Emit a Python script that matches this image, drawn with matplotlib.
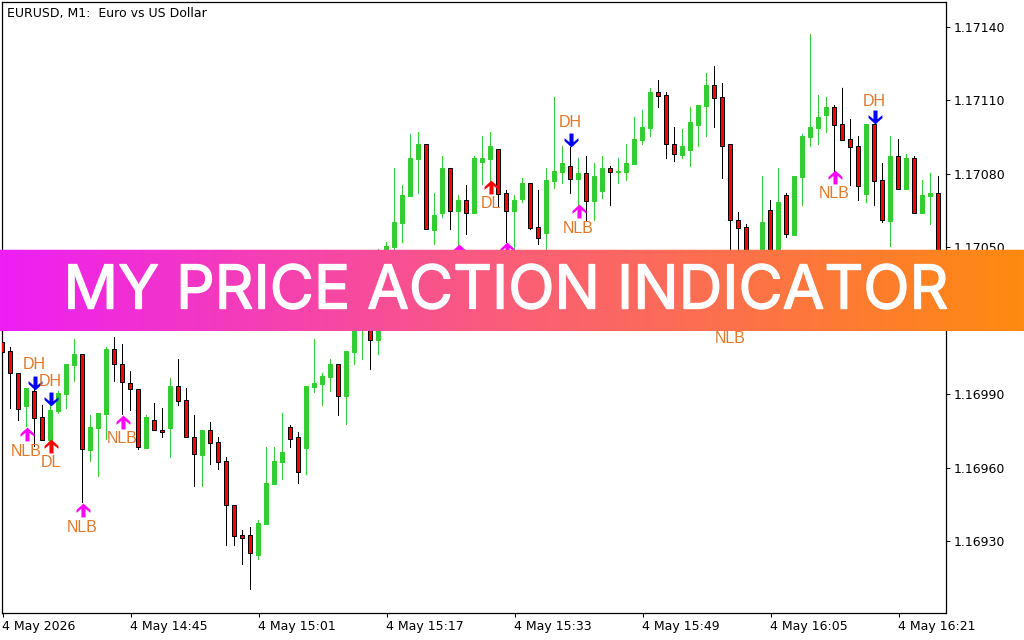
import numpy as np
import matplotlib
matplotlib.use("Agg")
import matplotlib.pyplot as plt
import matplotlib.patheffects as pe
from matplotlib.path import Path
from matplotlib.colors import LinearSegmentedColormap

# 1. candle data, one minute bars
highs = [1.170182, 1.170093, 1.169986, 1.169925, 1.169937, 1.169856, 1.169856, 1.169913, 1.170023, 1.170125,
         1.170064, 1.169815, 1.169823, 1.170093, 1.170133, 1.170105, 1.169994, 1.169921, 1.169815, 1.169864,
         1.169843, 1.169966, 1.170043, 1.169925, 1.169815, 1.169753, 1.169786, 1.169725, 1.169643, 1.169447,
         1.169345, 1.169357, 1.169386, 1.169684, 1.169684, 1.169823, 1.169774, 1.169745, 1.169933, 1.170125,
         1.169986, 1.170043, 1.170023, 1.170076, 1.170284, 1.170346, 1.170244, 1.170493, 1.170521, 1.170824,
         1.170754, 1.170963, 1.170971, 1.170922, 1.170722, 1.170873, 1.170824, 1.170713, 1.170754, 1.170873,
         1.170954, 1.170971, 1.170901, 1.170734, 1.170713, 1.170783, 1.170762, 1.170734, 1.170824, 1.171114,
         1.170914, 1.170910, 1.170865, 1.170873, 1.170844, 1.170873, 1.170832, 1.170865, 1.170922, 1.171032,
         1.171061, 1.171151, 1.171183, 1.171134, 1.170991, 1.170983, 1.171073, 1.171081, 1.171212, 1.171240,
         1.171171, 1.170922, 1.170644, 1.170595, 1.170456, 1.170791, 1.170693, 1.170824, 1.170722, 1.170791,
         1.170963, 1.171371, 1.171122, 1.171114, 1.171081, 1.171151, 1.171024, 1.170954, 1.171003, 1.171003,
         1.170844, 1.170954, 1.170942, 1.170881, 1.170873, 1.170775, 1.170803, 1.170791]
opens = [1.170113, 1.170076, 1.169986, 1.169851, 1.169913, 1.169807, 1.169713, 1.169831, 1.169901, 1.170019,
         1.170064, 1.169672, 1.169762, 1.169819, 1.170084, 1.170023, 1.169945, 1.169921, 1.169680, 1.169794,
         1.169753, 1.169762, 1.169933, 1.169876, 1.169725, 1.169651, 1.169753, 1.169704, 1.169627, 1.169447,
         1.169325, 1.169325, 1.169243, 1.169369, 1.169533, 1.169623, 1.169766, 1.169725, 1.169680, 1.169929,
         1.169941, 1.169970, 1.170023, 1.169892, 1.170072, 1.170203, 1.170211, 1.170121, 1.170399, 1.170501,
         1.170599, 1.170709, 1.170860, 1.170922, 1.170570, 1.170640, 1.170824, 1.170648, 1.170693, 1.170640,
         1.170848, 1.170860, 1.170901, 1.170722, 1.170648, 1.170697, 1.170762, 1.170583, 1.170558, 1.170771,
         1.170807, 1.170832, 1.170779, 1.170803, 1.170689, 1.170730, 1.170824, 1.170809, 1.170807, 1.170840,
         1.170938, 1.170987, 1.171134, 1.171122, 1.170922, 1.170877, 1.170897, 1.170999, 1.171077, 1.171163,
         1.171114, 1.170922, 1.170611, 1.170583, 1.170317, 1.170407, 1.170652, 1.170440, 1.170713, 1.170550,
         1.170787, 1.170950, 1.170987, 1.171040, 1.171073, 1.171003, 1.170942, 1.170914, 1.170718, 1.171003,
         1.170775, 1.170607, 1.170873, 1.170738, 1.170865, 1.170640, 1.170709, 1.170722]
closes = [1.170072, 1.169986, 1.169839, 1.169925, 1.169802, 1.169713, 1.169835, 1.169905, 1.170023, 1.170064,
          1.169676, 1.169766, 1.169823, 1.170084, 1.170023, 1.169950, 1.169921, 1.169684, 1.169807, 1.169753,
          1.169745, 1.169933, 1.169872, 1.169725, 1.169655, 1.169753, 1.169700, 1.169623, 1.169447, 1.169320,
          1.169312, 1.169251, 1.169374, 1.169537, 1.169627, 1.169664, 1.169717, 1.169582, 1.169933, 1.169945,
          1.169974, 1.170023, 1.169892, 1.170076, 1.170264, 1.170325, 1.170121, 1.170407, 1.170505, 1.170603,
          1.170713, 1.170865, 1.170922, 1.170575, 1.170632, 1.170824, 1.170648, 1.170693, 1.170640, 1.170865,
          1.170865, 1.170914, 1.170718, 1.170648, 1.170693, 1.170762, 1.170579, 1.170538, 1.170775, 1.170811,
          1.170844, 1.170779, 1.170803, 1.170689, 1.170791, 1.170824, 1.170807, 1.170811, 1.170844, 1.170942,
          1.170991, 1.171134, 1.171118, 1.170922, 1.170881, 1.170914, 1.171012, 1.171081, 1.171163, 1.171110,
          1.170914, 1.170611, 1.170579, 1.170346, 1.170407, 1.170603, 1.170440, 1.170685, 1.170554, 1.170791,
          1.170954, 1.170991, 1.171032, 1.171073, 1.170999, 1.170938, 1.170910, 1.170750, 1.171003, 1.170771,
          1.170611, 1.170873, 1.170738, 1.170865, 1.170640, 1.170713, 1.170722, 1.170366]
lows = [1.170072, 1.169839, 1.169790, 1.169766, 1.169684, 1.169713, 1.169700, 1.169819, 1.169839, 1.169950,
        1.169455, 1.169623, 1.169561, 1.169713, 1.169950, 1.169815, 1.169831, 1.169672, 1.169680, 1.169753,
        1.169721, 1.169639, 1.169851, 1.169725, 1.169521, 1.169521, 1.169610, 1.169590, 1.169280, 1.169280,
        1.169202, 1.169100, 1.169222, 1.169369, 1.169533, 1.169549, 1.169680, 1.169533, 1.169570, 1.169905,
        1.169851, 1.169909, 1.169811, 1.169774, 1.170019, 1.170039, 1.169999, 1.170060, 1.170284, 1.170468,
        1.170517, 1.170709, 1.170718, 1.170575, 1.170509, 1.170619, 1.170570, 1.170505, 1.170550, 1.170640,
        1.170754, 1.170762, 1.170660, 1.170517, 1.170440, 1.170681, 1.170570, 1.170509, 1.170456, 1.170738,
        1.170758, 1.170718, 1.170652, 1.170607, 1.170607, 1.170697, 1.170668, 1.170758, 1.170771, 1.170840,
        1.170918, 1.170950, 1.171069, 1.170860, 1.170848, 1.170860, 1.170828, 1.170910, 1.170950, 1.170987,
        1.170779, 1.170248, 1.170440, 1.170284, 1.170264, 1.170358, 1.170399, 1.170399, 1.170538, 1.170550,
        1.170668, 1.170910, 1.170918, 1.170967, 1.170807, 1.170938, 1.170750, 1.170689, 1.170681, 1.170668,
        1.170599, 1.170501, 1.170738, 1.170738, 1.170640, 1.170640, 1.170591, 1.170305]

# 2. indicator signals: bar index, arrow price, label price
nlb_bars = [3, 10, 15, 57, 63, 72, 91, 104]
nlb_arrow = [1.169739, 1.169427, 1.169788, 1.170485, 1.170493, 1.170648, 1.170219, 1.170787]
nlb_label = [1.169664, 1.169357, 1.169717, None, None, 1.170575, 1.170129, 1.170718]
dh_bars = [4, 6, 71, 109]
dh_arrow = [1.169945, 1.169880, 1.170938, 1.171030]
dh_label = [1.170023, 1.169950, 1.171008, 1.171097]
dl_bars = [6, 61]
dl_arrow = [1.169690, 1.170748]
dl_label = [1.169619, 1.170677]

# 3. axis text
x_tick_bars = [0, 16, 32, 48, 64, 80, 96, 112]
x_tick_labels = ["4 May 2026", "4 May 14:45", "4 May 15:01", "4 May 15:17",
                 "4 May 15:33", "4 May 15:49", "4 May 16:05", "4 May 16:21"]
y_ticks = [1.16930, 1.16960, 1.16990, 1.17020, 1.17050, 1.17080, 1.17110, 1.17140]
chart_title = "EURUSD, M1:  Euro vs US Dollar"
banner_title = "MY PRICE ACTION INDICATOR"

GREEN = "#32CD32"
LABEL_COLOR = "#E0782A"
W, H = 1024, 640

plt.rcParams["font.family"] = "DejaVu Sans"
fig = plt.figure(figsize=(W / 100, H / 100), dpi=100, facecolor="white")
ax = fig.add_axes([2 / W, (H - 613) / H, 944.4 / W, 611 / H])

# 4. candles
bars = np.arange(len(opens))
opens = np.array(opens)
closes = np.array(closes)
up = closes >= opens
wick_colors = [GREEN if u else "black" for u in up]
body_colors = [GREEN if u else "red" for u in up]
edge_colors = [GREEN if u else "black" for u in up]
wicks = ax.vlines(bars, lows, highs, colors=wick_colors, linewidth=0.72, zorder=2)
wicks.set_snap(False)
# small shift so the snapped body edges land on both sides of the wick
ax.bar(bars - 0.0125, np.abs(closes - opens), bottom=np.minimum(opens, closes), width=0.5,
       color=body_colors, edgecolor=edge_colors, linewidth=0.72, zorder=3)

# 5. signal arrows and labels
arrow_up = Path([(0, 6.5), (6.5, 0.5), (6.5, -2.2), (1.9, 1.6), (1.9, -6.5), (-1.9, -6.5),
                 (-1.9, 1.6), (-6.5, -2.2), (-6.5, 0.5), (0, 6.5)], closed=True)
arrow_down = Path(arrow_up.vertices * [1, -1], closed=True)

ax.plot(nlb_bars, nlb_arrow, ls="", marker=arrow_up, ms=10, color="#FF00FF", mew=0, zorder=4)
ax.plot(dh_bars, dh_arrow, ls="", marker=arrow_down, ms=10, color="#0000FF", mew=0, zorder=4)
ax.plot(dl_bars, dl_arrow, ls="", marker=arrow_up, ms=10, color="#FF0000", mew=0, zorder=4)

for bars_, prices, name in [(nlb_bars, nlb_label, "NLB"), (dh_bars, dh_label, "DH"), (dl_bars, dl_label, "DL")]:
    for b, p in zip(bars_, prices):
        if p is None:
            continue
        ax.text(b, p, name, color=LABEL_COLOR, fontsize=11.5, family="Liberation Sans",
                ha="center", va="center", zorder=5)

# 6. axes
ax.set_xlim(-0.0625, 117.9875)
ax.set_ylim(1.1690059, 1.1715018)
ax.yaxis.tick_right()
ax.set_yticks(y_ticks)
ax.set_yticklabels([f"{v:.5f}" for v in y_ticks], fontsize=9)
ax.set_xticks(x_tick_bars)
ax.set_xticklabels(x_tick_labels, fontsize=9, ha="left")
ax.tick_params(axis="both", length=3, width=0.75, color="black", pad=2)
for s in ax.spines.values():
    s.set_linewidth(0.9)
fig.text(7 / W, 1 - 13 / H, chart_title, fontsize=9, va="center", ha="left", color="black")

# 7. gradient banner on top of the chart, its first row is only a pale fringe
cmap = LinearSegmentedColormap.from_list("banner", [(0, "#EE1EF4"), (0.5, "#FB5E78"), (1, "#FF8A10")])
gradient = np.repeat(cmap(np.linspace(0, 1, W))[np.newaxis, :, :], 82, axis=0)
gradient[0, :, 3] = 0.25
banner = fig.add_axes([0, (H - 331) / H, 1, 82 / H])
banner.imshow(gradient, aspect="auto", extent=(0, W, 0, 82), interpolation="nearest")
banner.axis("off")
# heavier stroke because the installed font is lighter than the original lettering
banner.text(505.5, 22.5, banner_title, color="white", fontsize=43.5, family="Inter",
            ha="center", va="baseline",
            path_effects=[pe.withStroke(linewidth=1.0, foreground="white")])

fig.savefig("out.png", dpi=100)
